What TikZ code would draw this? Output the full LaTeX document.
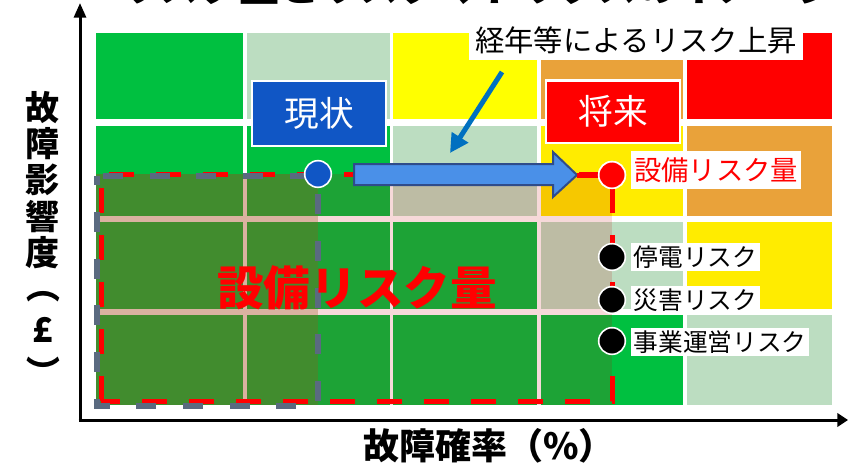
\documentclass[tikz,border=0pt]{standalone}
\usepackage{fontspec}
\newfontfamily\jp{Noto Sans CJK JP}
\usetikzlibrary{arrows.meta}
\newcommand\jpsize[1]{\fontsize{#1}{#1}\selectfont}
\definecolor{cgreen}{RGB}{0,192,64}
\definecolor{clight}{RGB}{188,221,193}
\definecolor{cyellow}{RGB}{255,255,0}
\definecolor{cyellowb}{RGB}{255,236,0}
\definecolor{corange}{RGB}{233,162,58}
\definecolor{cred}{RGB}{255,0,0}
\definecolor{cblue}{RGB}{16,86,197}
\definecolor{arrowblue}{RGB}{0,112,192}
\definecolor{blockblue}{RGB}{74,144,232}
\definecolor{navy}{RGB}{47,76,138}
\definecolor{slate}{RGB}{90,106,128}
\definecolor{ovred}{RGB}{200,0,0}
\definecolor{ovbrown}{RGB}{150,90,30}
\tikzset{
  dot/.style={circle, minimum size=20pt, inner sep=0pt, draw=white, line width=1.2pt},
  tagbox/.style={draw=white, line width=2pt, text=white, minimum width=100.5pt, font=\jp\jpsize{26pt}},
  risklabel/.style={fill=white, inner xsep=2pt, inner ysep=2pt, anchor=west, font=\jp\jpsize{18.5pt}},
  axislabel/.style={font=\jp\bfseries\jpsize{25.5pt}, inner sep=0pt},
  axisline/.style={line width=2.25pt, black}
}
\begin{document}
\begin{tikzpicture}[x=0.75pt,y=-0.75pt]
\useasboundingbox (0,0) rectangle (848,464);
\clip (0,0) rectangle (848,464);
\fill[white] (0,0) rectangle (848,464);

% clipped title (only its lower edge shows)
\node[font=\jp\bfseries\jpsize{30pt}, anchor=base, inner sep=0pt] (title) at (478,2) {リスク量とリスクマトリクスのイメージ};

% matrix cells
\foreach \xa/\xb/\ya/\yb/\cc in {
 96/243/33/119/cgreen, 247/390/33/119/clight, 393/537/33/119/cyellow, 541/683/33/119/corange, 687/832/33/119/cred,
 96/243/126/216/cgreen, 247/390/126/216/cgreen, 393/537/126/216/clight, 541/683/126/216/cyellowb, 687/832/126/216/corange,
 96/243/222/309/cgreen, 247/390/222/309/cgreen, 393/537/222/309/cgreen, 541/683/222/309/clight, 687/832/222/309/cyellowb,
 96/243/315/405/cgreen, 247/390/315/405/cgreen, 393/537/315/405/cgreen, 541/683/315/405/cgreen, 687/832/315/405/clight}
 \fill[\cc] (\xa,\ya) rectangle (\xb,\yb);

% overlays
\fill[ovred, opacity=0.15] (96,174) rectangle (612,405);
\fill[ovbrown, opacity=0.3] (96,174) rectangle (318,405);

% dashed regions
\draw[cred, line width=3.75pt, dash pattern=on 18.75pt off 16.5pt] (101,401) -- (101,174) -- (612,174) -- (612,401) -- cycle;
\draw[slate, line width=4.5pt, dash pattern=on 15pt off 20pt, dash phase=8pt] (97,176) -- (97,406) -- (318,406) -- (318,176) -- cycle;

% axes
\coordinate (O) at (80,420);
\coordinate (ytop) at (80,3);
\coordinate (xend) at (848,420);
\draw[axisline, -{Triangle[length=11pt,width=9pt]}] ([yshift=-1pt]O) -- (ytop);
\draw[axisline, -{Triangle[length=8pt,width=10pt]}] ([xshift=-1pt]O) -- (xend);

% block arrow
\fill[blockblue, draw=navy, line width=1.5pt] (354,164) -- (553,164) -- (553,152) -- (577,175) -- (553,197) -- (553,185) -- (354,185) -- cycle;
\coordinate (atip) at (577,175);
\coordinate (fdown) at (612,207);

% dots
\node[dot, fill=cblue] (now) at (318,174) {};
\node[dot, fill=cred] (future) at (612,175) {};
\draw[cred, line width=3.75pt] (atip) -- (future.west);
\draw[cred, line width=3.75pt] (future.south) -- (fdown);
\node[dot, fill=cred] at (612,175) {};

\node[dot, fill=black] (d1) at (612,257) {};
\node[dot, fill=black] (d2) at (612,300) {};
\node[dot, fill=black] (d3) at (612,341) {};

% tags
\node[tagbox, fill=cblue, minimum height=48.75pt] (genjo) at (319,113.5) {現状};
\node[tagbox, fill=cred, minimum height=47pt] (shorai) at (613,111.5) {将来};

% rising risk label and arrow
\node[fill=white, minimum width=250pt, minimum height=30pt, inner sep=0pt, font=\jp\jpsize{22pt}] (rise) at (636,40) {経年等によるリスク上昇};
\coordinate (ta) at (502,72);
\coordinate (tb) at (450,153);
\draw[arrowblue, line width=3.75pt, -{Triangle[length=14pt,width=14pt]}] (ta) -- (tb);

% red labels
\node[fill=white, text=cred, minimum width=127pt, minimum height=28.5pt, inner sep=0pt, font=\jp\jpsize{20.5pt}] (eqlabel) at (716,170) {設備リスク量};
\node[text=cred, font=\jp\bfseries\jpsize{35pt}, inner sep=0pt] (bigeq) at (357,288) {設備リスク量};

% risk items
\node[risklabel] (r1) at (631,257) {停電リスク};
\node[risklabel] (r2) at (631,300) {災害リスク};
\node[risklabel] (r3) at (631,342) {事業運営リスク};

% axis labels
\node[axislabel, font=\jp\bfseries\jpsize{27pt}] (xl) at (489,446) {故障確率（\%）};
\node[axislabel] (y1) at (43,108) {故};
\node[axislabel] (y2) at (43,144) {障};
\node[axislabel] (y3) at (43,180) {影};
\node[axislabel] (y4) at (43,217) {響};
\node[axislabel] (y5) at (43,253) {度};
\node[axislabel, rotate=-90] (y6) at (43,286) {（};
\node[axislabel] (y7) at (43,330) {£};
\node[axislabel, rotate=-90] (y8) at (43,372) {）};
\end{tikzpicture}
\end{document}
